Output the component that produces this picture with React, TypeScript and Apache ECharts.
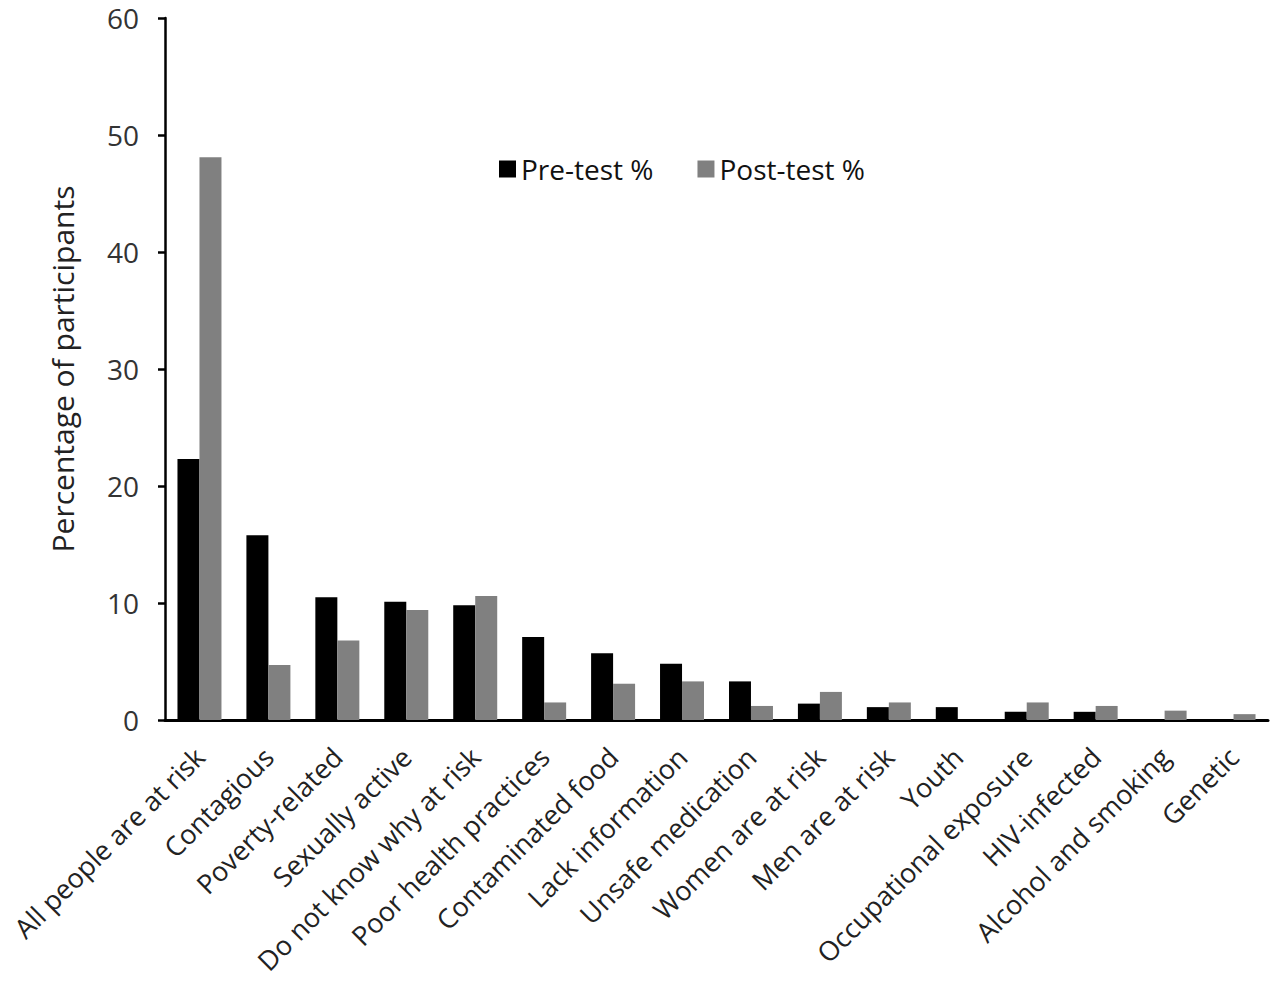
import React, { useEffect, useRef } from "react";
import * as echarts from "echarts";

const categories = [
  "All people are at risk",
  "Contagious",
  "Poverty-related",
  "Sexually active",
  "Do not know why at risk",
  "Poor health practices",
  "Contaminated food",
  "Lack information",
  "Unsafe medication",
  "Women are at risk",
  "Men are at risk",
  "Youth",
  "Occupational exposure",
  "HIV-infected",
  "Alcohol and smoking",
  "Genetic",
];

const preTest = [22.3, 15.8, 10.5, 10.1, 9.8, 7.1, 5.7, 4.8, 3.3, 1.4, 1.1, 1.1, 0.7, 0.7, 0, 0];
const postTest = [48.1, 4.7, 6.8, 9.4, 10.6, 1.5, 3.1, 3.3, 1.2, 2.4, 1.5, 0, 1.5, 1.2, 0.8, 0.5];

const yTicks = [0, 10, 20, 30, 40, 50, 60];

const FONT = "'Open Sans', 'DejaVu Sans', sans-serif";

export default function App() {
  const ref = useRef<HTMLDivElement>(null);

  useEffect(() => {
    if (!ref.current) return;
    const chart = echarts.init(ref.current, undefined, { renderer: "svg" });
    chart.setOption({
      animation: false,
      backgroundColor: "#ffffff",
      textStyle: { fontFamily: FONT },
      grid: { left: 165, right: 12, top: 18, bottom: 265, containLabel: false },
      legend: {
        left: 494,
        top: 150,
        itemWidth: 17,
        itemHeight: 17,
        itemGap: 44,
        icon: "rect",
        textStyle: { fontSize: 28, color: "#111", fontFamily: FONT },
        data: ["Pre-test %", "Post-test %"],
      },
      xAxis: {
        type: "category",
        data: categories,
        axisLine: { show: true, lineStyle: { color: "#000", width: 3 } },
        axisTick: { show: false },
        axisLabel: {
          rotate: 45,
          interval: 0,
          fontSize: 27,
          color: "#222",
          margin: 32,
          fontFamily: FONT,
        },
      },
      yAxis: {
        type: "value",
        min: yTicks[0],
        max: yTicks[yTicks.length - 1],
        interval: 10,
        name: "Percentage of participants",
        nameLocation: "middle",
        nameRotate: 90,
        nameGap: 88,
        nameTextStyle: { fontSize: 30, color: "#222", fontFamily: FONT },
        axisLine: { show: true, lineStyle: { color: "#000", width: 2.5 } },
        axisTick: { show: true, length: 7, lineStyle: { color: "#000", width: 2.5 } },
        splitLine: { show: false },
        axisLabel: { fontSize: 28, color: "#333", margin: 26, fontFamily: FONT },
      },
      series: [
        {
          name: "Pre-test %",
          type: "bar",
          data: preTest,
          barWidth: 22,
          barGap: "0%",
          itemStyle: { color: "#000000" },
        },
        {
          name: "Post-test %",
          type: "bar",
          data: postTest,
          barWidth: 22,
          barGap: "0%",
          itemStyle: { color: "#808080" },
        },
      ],
    });
    return () => chart.dispose();
  }, []);

  return (
    <div
      ref={ref}
      style={{ position: "fixed", left: 0, top: 0, width: 1280, height: 985 }}
    />
  );
}
